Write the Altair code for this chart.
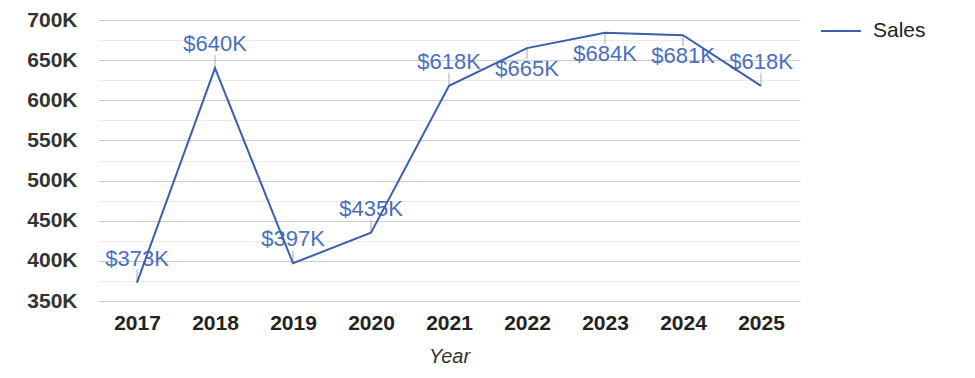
import altair as alt
import pandas as pd

years = ["2017", "2018", "2019", "2020", "2021", "2022", "2023", "2024", "2025"]
sales = [373000, 640000, 397000, 435000, 618000, 665000, 684000, 681000, 618000]
label_side = ["above", "above", "above", "above", "above", "below", "below", "below", "above"]
y_ticks = [350000, 375000, 400000, 425000, 450000, 475000, 500000, 525000, 550000,
           575000, 600000, 625000, 650000, 675000, 700000]

df = pd.DataFrame({"Year": years, "Sales": sales, "side": label_side,
                   "series": ["Sales"] * len(years)})
df["label"] = ["$" + str(round(v / 1000)) + "K" for v in sales]

LINE = "#3a60ab"
LABEL = "#4a6fbd"
FONT = "Liberation Sans"

x = alt.X("Year:O", title="Year", scale=alt.Scale(type="point", padding=0.5),
          axis=alt.Axis(labelAngle=0, labelFont=FONT, labelFontSize=21, labelFontWeight="bold",
                        labelColor="#222222", labelPadding=11, ticks=False, domain=False, grid=False,
                        titleFont=FONT, titleFontSize=20, titleFontStyle="italic",
                        titleFontWeight="normal", titleColor="#333333", titlePadding=13))
y = alt.Y("Sales:Q", title=None, scale=alt.Scale(domain=[350000, 700000], nice=False, zero=False),
          axis=alt.Axis(values=y_ticks, ticks=False, domain=False, labelFont=FONT,
                        labelFontSize=21, labelFontWeight="bold", labelColor="#333333",
                        labelPadding=21,
                        labelExpr="datum.value % 50000 === 0 ? format(datum.value/1000, 'd') + 'K' : ''",
                        gridColor={"condition": {"test": "datum.value % 50000 === 0", "value": "#cccccc"},
                                   "value": "#ebebeb"},
                        gridWidth=1))

base = alt.Chart(df)

leader_up = base.transform_filter("datum.side === 'above'").mark_rule(
    color="#aaaaaa", strokeWidth=1, y2Offset=-13).encode(x=x, y=y, y2="Sales:Q")
leader_down = base.transform_filter("datum.side === 'below'").mark_rule(
    color="#aaaaaa", strokeWidth=1, y2Offset=11).encode(x=x, y=y, y2="Sales:Q")

txt_up = base.transform_filter("datum.side === 'above'").mark_text(
    font=FONT, fontSize=22, color=LABEL, dy=-24, baseline="middle").encode(x=x, y=y, text="label:N")
txt_down = base.transform_filter("datum.side === 'below'").mark_text(
    font=FONT, fontSize=22, color=LABEL, dy=21, baseline="middle").encode(x=x, y=y, text="label:N")

line = base.mark_line(strokeWidth=2).encode(
    x=x, y=y,
    color=alt.Color("series:N", scale=alt.Scale(range=[LINE]),
                    legend=alt.Legend(title=None, orient="none", legendX=722, legendY=-10,
                                      labelFont=FONT, labelFontSize=21, labelColor="#222222",
                                      symbolType="stroke", symbolSize=1600, symbolStrokeWidth=2,
                                      labelOffset=11)))

chart = alt.layer(leader_up, leader_down, txt_up, txt_down, line).properties(
    width=702, height=281,
    autosize=alt.AutoSizeParams(type="none"),
    padding={"left": 90, "top": 12, "right": 167, "bottom": 69},
    view=alt.ViewBackground(stroke="#ffffff", strokeWidth=0, strokeOpacity=0),
).configure_view(strokeOpacity=0, strokeWidth=0).configure_axisX(grid=False).configure(background="white")

chart.save("out.html", embed_options={"renderer": "svg", "actions": False})
